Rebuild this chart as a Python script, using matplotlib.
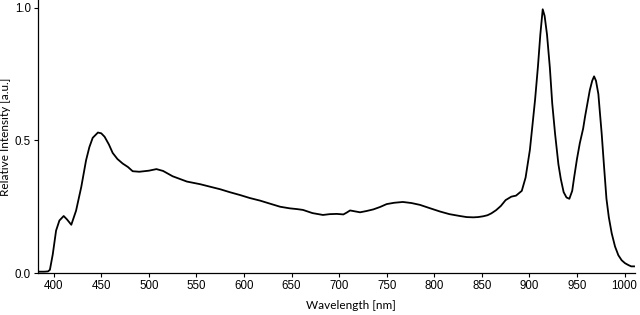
import matplotlib
matplotlib.use('Agg')
import matplotlib.pyplot as plt
from matplotlib.ticker import FormatStrFormatter

# Spectrum (wavelength in nm, normalised intensity)
wavelength = [383, 390, 394, 396, 399, 402.5, 406, 410.5, 414, 418.5, 423.5, 429, 434,
              437.5, 441, 446.5, 450, 453.5, 458, 462, 467, 472.5, 478, 483, 490, 500,
              508, 515, 525, 540, 554, 565, 575, 585, 596, 606, 617, 627, 638, 648, 656,
              662, 672, 683, 690, 697.5, 704.5, 708, 711.5, 716, 722, 729, 736, 743, 750,
              758, 767, 776, 785, 795, 806, 816, 827, 834, 841, 846, 851.5, 856, 860, 865,
              870, 875, 881, 886, 892, 896, 900.5, 903, 906, 909, 911.5, 914, 916, 918.5,
              921.5, 924, 927, 930.5, 933, 936, 939, 942, 945, 947, 950, 953, 956.5,
              958.5, 961, 963.5, 966, 968, 970, 972.5, 974, 976, 978.5, 981, 983.5,
              986.5, 990, 993.5, 997, 1000.5, 1004, 1007, 1010]
intensity = [0.005, 0.005, 0.006, 0.012, 0.07, 0.16, 0.198, 0.215, 0.202, 0.182, 0.235,
             0.325, 0.425, 0.475, 0.51, 0.53, 0.527, 0.514, 0.485, 0.453, 0.43, 0.413,
             0.4, 0.384, 0.382, 0.386, 0.392, 0.385, 0.365, 0.345, 0.335, 0.325, 0.316,
             0.305, 0.294, 0.283, 0.273, 0.262, 0.25, 0.244, 0.241, 0.238, 0.226, 0.219,
             0.222, 0.223, 0.221, 0.228, 0.236, 0.233, 0.229, 0.234, 0.24, 0.249, 0.26,
             0.265, 0.268, 0.264, 0.257, 0.245, 0.232, 0.222, 0.215, 0.211, 0.21, 0.211,
             0.214, 0.218, 0.225, 0.237, 0.253, 0.275, 0.288, 0.292, 0.31, 0.36, 0.464,
             0.55, 0.655, 0.78, 0.9, 0.995, 0.97, 0.9, 0.775, 0.64, 0.525, 0.41, 0.355,
             0.305, 0.285, 0.28, 0.31, 0.36, 0.43, 0.49, 0.545, 0.59, 0.64, 0.69, 0.725,
             0.742, 0.725, 0.675, 0.61, 0.525, 0.4, 0.28, 0.21, 0.15, 0.1, 0.067, 0.048,
             0.037, 0.03, 0.025, 0.025]

x_ticks = [400, 450, 500, 550, 600, 650, 700, 750, 800, 850, 900, 950, 1000]
y_ticks = [0.0, 0.5, 1.0]

fig = plt.figure(figsize=(6.4, 3.15), dpi=100)
ax = fig.add_axes([38 / 640, 42 / 315, 597 / 640, 273 / 315])

ax.plot(wavelength, intensity, color='black', linewidth=1.3)

ax.set_xlim(383.5, 1011)
ax.set_ylim(0, 1.03)
ax.set_xticks(x_ticks)
ax.set_yticks(y_ticks)
ax.yaxis.set_major_formatter(FormatStrFormatter('%.1f'))

for side in ['top', 'right']:
    ax.spines[side].set_visible(False)
for side in ['left', 'bottom']:
    ax.spines[side].set_linewidth(0.9)

ax.tick_params(direction='out', length=3, width=0.8, pad=2, labelsize=8.3)
for lbl in ax.get_xticklabels() + ax.get_yticklabels():
    lbl.set_family('Liberation Sans')

ax.set_xlabel('Wavelength [nm]', fontsize=8.5, family='Lato', labelpad=4)
ax.xaxis.set_label_coords(0.524, -0.1)
ax.set_ylabel('Relative Intensity [a.u.]', fontsize=8.5, family='Lato', labelpad=3)

fig.savefig('out.png', dpi=100)
